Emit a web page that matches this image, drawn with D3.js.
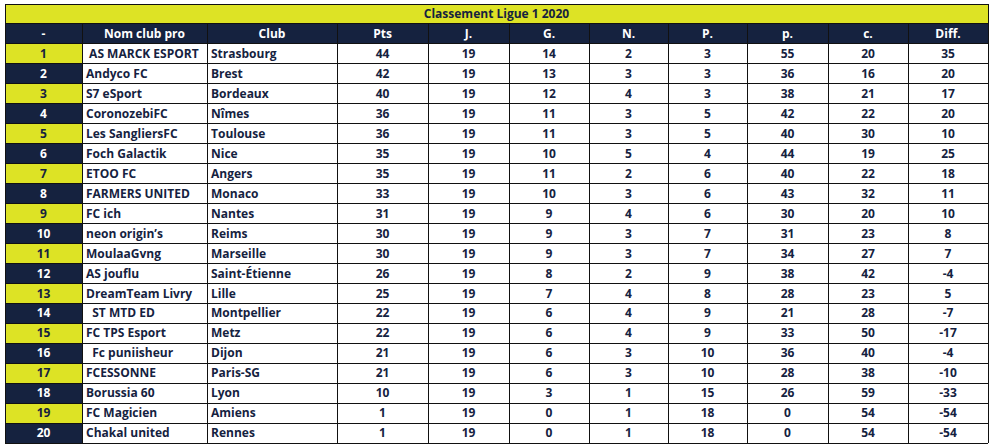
<!DOCTYPE html>
<html><head><meta charset="utf-8">
<script src="https://cdn.jsdelivr.net/npm/d3@7"></script>
<style>body{margin:0;background:#fff}text{font-family:"Open Sans","Noto Sans",sans-serif;font-weight:bold;font-size:12px}</style>
</head><body><svg id="c" width="993" height="446"></svg>
<script>
const title = "Classement Ligue 1 2020";
const headers = ["-","Nom club pro","Club","Pts","J.","G.","N.","P.","p.","c.","Diff."];
const ranks = d3.range(1,21);
const proNames = [" AS MARCK ESPORT","Andyco FC","S7 eSport","CoronozebiFC","Les SangliersFC","Foch Galactik","ETOO FC","FARMERS UNITED","FC ich","neon origin’s","MoulaaGvng","AS jouflu","DreamTeam Livry","  ST MTD ED","FC TPS Esport","  Fc puniisheur","FCESSONNE","Borussia 60","FC Magicien","Chakal united"];
const clubs = ["Strasbourg","Brest","Bordeaux","Nîmes","Toulouse","Nice","Angers","Monaco","Nantes","Reims","Marseille","Saint-Étienne","Lille","Montpellier","Metz","Dijon","Paris-SG","Lyon","Amiens","Rennes"];
const pts = [44,42,40,36,36,35,35,33,31,30,30,26,25,22,22,21,21,10,1,1];
const played = [19,19,19,19,19,19,19,19,19,19,19,19,19,19,19,19,19,19,19,19];
const won = [14,13,12,11,11,10,11,10,9,9,9,8,7,6,6,6,6,3,0,0];
const drawn = [2,3,4,3,3,5,2,3,4,3,3,2,4,4,4,3,3,1,1,1];
const lost = [3,3,3,5,5,4,6,6,6,7,7,9,8,9,9,10,10,15,18,18];
const gf = [55,36,38,42,40,44,40,43,30,31,34,38,28,21,33,36,28,26,0,0];
const ga = [20,16,21,22,30,19,22,32,20,23,27,42,23,28,50,40,38,59,54,54];
const diff = [35,20,17,20,10,25,18,11,10,8,7,-4,5,-7,-17,-4,-10,-33,-54,-54];

const NAVY="#15223f", YEL="#dde325";
const edges=[5,82,207,337,428,509,589,668,747,828,908,988];
const svg=d3.select("#c");
const y=d3.scaleBand().domain(["title","head",...ranks]).range([4,443]);
const cols=[ranks,proNames,clubs,pts,played,won,drawn,lost,gf,ga,diff];
// title
svg.append("rect").attr("x",edges[0]).attr("y",y("title")).attr("width",edges[11]-edges[0]).attr("height",y.bandwidth()).attr("fill",YEL);
svg.append("text").attr("x",(edges[0]+edges[11])/2).attr("y",y("title")+y.bandwidth()/2).attr("dy","0.35em").attr("text-anchor","middle").attr("fill",NAVY).text(title);
// header
headers.forEach((h,i)=>{
  svg.append("rect").attr("x",edges[i]).attr("y",y("head")).attr("width",edges[i+1]-edges[i]).attr("height",y.bandwidth()).attr("fill",NAVY);
  svg.append("text").attr("x",(edges[i]+edges[i+1])/2).attr("y",y("head")+y.bandwidth()/2).attr("dy","0.35em").attr("text-anchor","middle").attr("fill","#fff").text(h);
});
ranks.forEach((r,ri)=>{
  const yy=y(r);
  cols.forEach((col,ci)=>{
    let fill="#fff", tc="#15223f";
    if(ci===0){fill=r%2?YEL:NAVY; tc=r%2?NAVY:"#fff";}
    svg.append("rect").attr("x",edges[ci]).attr("y",yy).attr("width",edges[ci+1]-edges[ci]).attr("height",y.bandwidth()).attr("fill",fill);
    const left=ci===1||ci===2;
    svg.append("text").attr("x",left?edges[ci]+4:(edges[ci]+edges[ci+1])/2).attr("y",yy+y.bandwidth()/2).attr("dy","0.35em")
      .attr("text-anchor",left?"start":"middle").attr("fill",tc).style("white-space","pre").attr("xml:space","preserve").text(col[ri]);
  });
});
// grid lines
const g=svg.append("g").attr("stroke","#111").attr("stroke-width",1).attr("shape-rendering","crispEdges");
["title","head",...ranks].forEach(k=>g.append("line").attr("x1",edges[0]).attr("x2",edges[11]).attr("y1",y(k)).attr("y2",y(k)));
g.append("line").attr("x1",edges[0]).attr("x2",edges[11]).attr("y1",443).attr("y2",443);
edges.forEach((e,i)=>g.append("line").attr("x1",e).attr("x2",e).attr("y1",(i===0||i===11)?y("title"):y("head")).attr("y2",443));
</script></body></html>
